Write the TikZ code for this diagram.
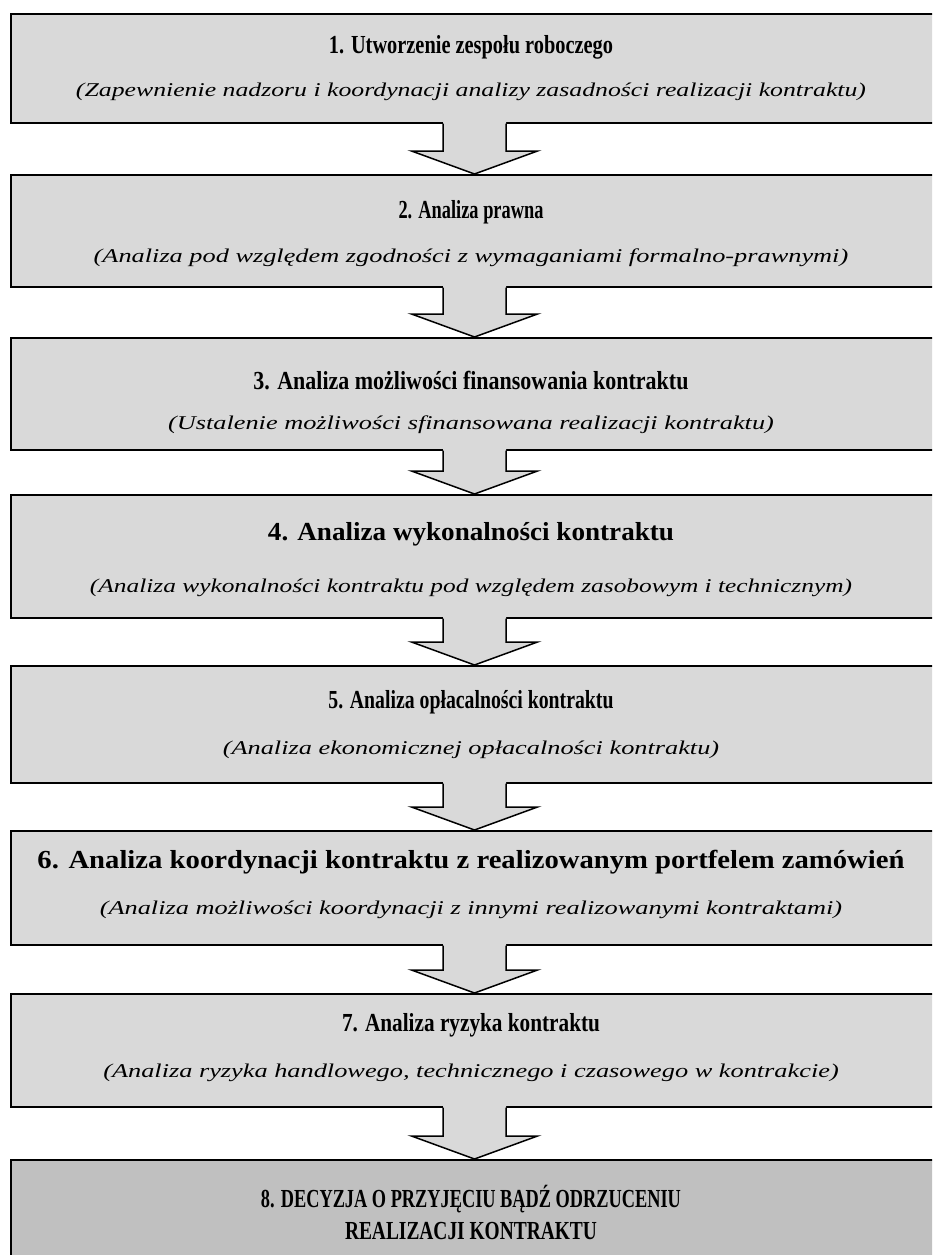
\documentclass[tikz,border=0pt]{standalone}
\usepackage{fontspec}
\usepackage{graphicx}
\setmainfont{Liberation Serif}[FakeStretch=0.8]
\newfontfamily\subfont{Liberation Serif}[FakeStretch=1.35]
\usetikzlibrary{calc}
\definecolor{boxgray}{RGB}{217,217,217}
\definecolor{darkbox}{RGB}{192,192,192}
\newcommand\fitw[2]{\resizebox{#1}{\height}{#2}}
\newcommand\blockarrow[2]{%
  \coordinate (s) at (#1.south -| ac);
  \coordinate (t) at (#2.north -| ac);
  \fill[boxgray] ($(s)+(-31.5,-2)$) -- ($(t)+(-31.5,-23)$) -- ($(t)+(-63,-23)$) -- (t) -- ($(t)+(63,-23)$) -- ($(t)+(31.5,-23)$) -- ($(s)+(31.5,-2)$) -- cycle;
  \draw[arrline] ($(s)+(-31.5,-0.5)$) -- ($(t)+(-31.5,-23)$) -- ($(t)+(-63,-23)$) -- (t) -- ($(t)+(63,-23)$) -- ($(t)+(31.5,-23)$) -- ($(s)+(31.5,-0.5)$);
}
\begin{document}
\begin{tikzpicture}[x=1pt,y=-1pt,
  stage/.style={draw=black, line width=2pt, fill=boxgray, rectangle, inner sep=0pt, anchor=north west, minimum width=940pt},
  ttl/.style={font=\fontsize{26}{32}\selectfont\bfseries, inner sep=0pt, align=center},
  sub/.style={font=\subfont\fontsize{19.5}{22}\selectfont\itshape, inner sep=0pt},
  arrline/.style={draw=black, line width=1.5pt, line join=miter}]
\useasboundingbox (0,0) rectangle (932,1255);
\clip (0,0) rectangle (932,1255);
\coordinate (ac) at (474.5,0);
% boxes
\node[stage, minimum height=109pt] (b1) at (10,13) {};
\node[stage, minimum height=112pt] (b2) at (10,174) {};
\node[stage, minimum height=112pt] (b3) at (10,337) {};
\node[stage, minimum height=123pt] (b4) at (10,494) {};
\node[stage, minimum height=117pt] (b5) at (10,665) {};
\node[stage, minimum height=114pt] (b6) at (10,830) {};
\node[stage, minimum height=113pt] (b7) at (10,993) {};
\node[stage, fill=darkbox, minimum height=140pt] (b8) at (10,1159) {};
% arrows
\blockarrow{b1}{b2}
\blockarrow{b2}{b3}
\blockarrow{b3}{b4}
\blockarrow{b4}{b5}
\blockarrow{b5}{b6}
\blockarrow{b6}{b7}
\blockarrow{b7}{b8}
% texts
\node[ttl] (t1) at (471,47) {\fitw{284pt}{1. Utworzenie zespołu roboczego}};
\node[sub] (s1) at (471,92) {\fitw{790pt}{(Zapewnienie nadzoru i koordynacji analizy zasadności realizacji kontraktu)}};
\node[ttl] (t2) at (471,212) {\fitw{145pt}{2. Analiza prawna}};
\node[sub] (s2) at (471,258) {(Analiza pod względem zgodności z wymaganiami formalno-prawnymi)};
\node[ttl] (t3) at (471,381) {\fitw{435pt}{3. Analiza możliwości finansowania kontraktu}};
\node[sub] (s3) at (471,425) {(Ustalenie możliwości sfinansowana realizacji kontraktu)};
\node[ttl] (t4) at (471,534) {\fitw{406pt}{4. Analiza wykonalności kontraktu}};
\node[sub] (s4) at (471,588) {\fitw{762pt}{(Analiza wykonalności kontraktu pod względem zasobowym i technicznym)}};
\node[ttl] (t5) at (471,702) {\fitw{285pt}{5. Analiza opłacalności kontraktu}};
\node[sub] (s5) at (471,750) {(Analiza ekonomicznej opłacalności kontraktu)};
\node[ttl] (t6) at (471,862) {\fitw{867pt}{6. Analiza koordynacji kontraktu z realizowanym portfelem zamówień}};
\node[sub] (s6) at (471,910) {(Analiza możliwości koordynacji z innymi realizowanymi kontraktami)};
\node[ttl] (t7) at (471,1025) {\fitw{258pt}{7. Analiza ryzyka kontraktu}};
\node[sub] (s7) at (471,1073) {(Analiza ryzyka handlowego, technicznego i czasowego w kontrakcie)};
\node[ttl] (t8) at (471,1212) {\fitw{420pt}{8. DECYZJA O PRZYJĘCIU BĄDŹ ODRZUCENIU}\\\fitw{252pt}{REALIZACJI KONTRAKTU}};
\end{tikzpicture}
\end{document}
